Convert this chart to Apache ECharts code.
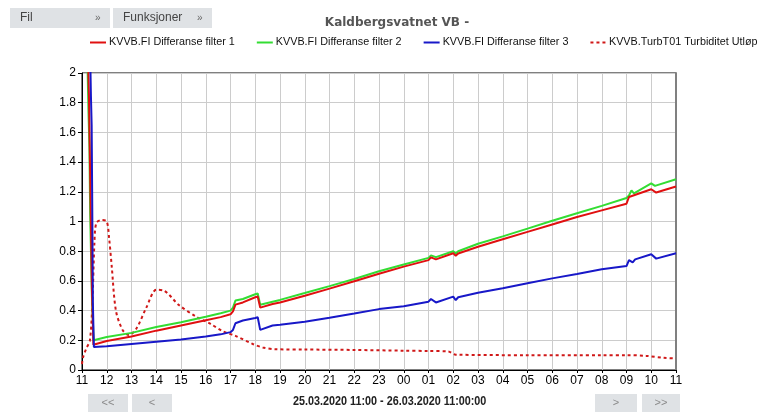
<!DOCTYPE html>
<html>
<head>
<meta charset="utf-8">
<script src="https://cdn.jsdelivr.net/npm/echarts@6/dist/echarts.min.js"></script>
<style>
html,body{margin:0;padding:0;background:#fff;}
#c{width:763px;height:412px;}
</style>
</head>
<body>
<div id="c"></div>
<script>
// x values are hours since 25.03.2020 11:00
const hourLabels = ['11','12','13','14','15','16','17','18','19','20','21','22','23','00','01','02','03','04','05','06','07','08','09','10','11'];
const seriesNames = ['KVVB.FI Differanse filter 1','KVVB.FI Differanse filter 2','KVVB.FI Differanse filter 3','KVVB.TurbT01 Turbiditet Utløp'];

const filter1 = [[0.2,2.4],[0.28,1.85],[0.34,1.2],[0.4,0.55],[0.46,0.17],[1.0,0.195],[2.0,0.225],[3.0,0.265],[4.0,0.3],[5.0,0.335],[5.6,0.356],[6.0,0.375],[6.1,0.395],[6.2,0.44],[6.5,0.455],[7.0,0.49],[7.1,0.495],[7.2,0.42],[7.7,0.444],[8,0.455],[9,0.5],[10,0.548],[11,0.598],[12,0.648],[13,0.696],[14,0.74],[14.1,0.758],[14.3,0.745],[15,0.786],[15.1,0.77],[15.2,0.785],[16,0.83],[17,0.88],[18,0.93],[19,0.98],[20,1.03],[21,1.075],[22,1.12],[22.1,1.165],[23,1.217],[23.2,1.195],[24,1.236]];
const filter2 = [[0.18,2.4],[0.26,1.75],[0.3,1.5],[0.33,1.05],[0.4,0.5],[0.47,0.2],[1,0.222],[2,0.25],[3,0.29],[4,0.322],[5,0.358],[5.6,0.382],[6.0,0.4],[6.1,0.42],[6.2,0.468],[6.5,0.478],[7.0,0.51],[7.1,0.515],[7.2,0.44],[7.7,0.46],[8,0.472],[9,0.518],[10,0.565],[11,0.613],[12,0.665],[13,0.71],[14,0.755],[14.1,0.772],[14.3,0.76],[15,0.8],[15.1,0.785],[15.2,0.8],[16,0.85],[17,0.9],[18,0.952],[19,1.005],[20,1.055],[21,1.105],[22,1.158],[22.1,1.175],[22.2,1.21],[22.3,1.19],[23,1.257],[23.15,1.24],[24,1.285]];
const filter3 = [[0.3,2.4],[0.36,1.85],[0.39,1.65],[0.41,1.2],[0.44,0.45],[0.48,0.155],[1,0.16],[2,0.175],[3,0.19],[4,0.205],[5,0.225],[5.6,0.24],[6.0,0.255],[6.1,0.27],[6.2,0.315],[6.5,0.333],[7.0,0.35],[7.1,0.355],[7.2,0.27],[7.7,0.3],[8,0.305],[9,0.325],[10,0.352],[11,0.38],[12,0.41],[13,0.43],[14,0.46],[14.1,0.478],[14.3,0.455],[15,0.494],[15.1,0.47],[15.2,0.49],[16,0.52],[17,0.55],[18,0.584],[19,0.617],[20,0.646],[21,0.678],[22,0.70],[22.1,0.74],[22.25,0.725],[22.35,0.745],[23,0.779],[23.2,0.75],[24,0.786]];
const turbidity = [[0,0.04],[0.05,0.09],[0.19,0.15],[0.32,0.2],[0.42,0.45],[0.5,0.85],[0.58,0.99],[0.8,1.01],[1.0,1.0],[1.1,0.88],[1.2,0.7],[1.37,0.4],[1.64,0.27],[1.9,0.235],[2.2,0.28],[2.6,0.42],[3.0,0.54],[3.3,0.535],[3.9,0.44],[4.6,0.36],[5.2,0.31],[5.7,0.26],[6.2,0.23],[6.9,0.175],[7.3,0.152],[7.8,0.14],[9,0.138],[11,0.135],[13,0.13],[14,0.128],[14.8,0.125],[15.1,0.103],[18,0.1],[21,0.1],[22,0.1],[22.8,0.095],[23.5,0.082],[24,0.078]];

const titleText = 'Kaldbergsvatnet VB -';
const rangeText = '25.03.2020 11:00 - 26.03.2020 11:00:00';

const chart = echarts.init(document.getElementById('c'), null, {renderer:'canvas'});
const colors = ['#e01010','#33dd33','#1818c8','#d01818'];
const solidIcon = 'path://M0,0H16V2H0Z';
const dottedIcon = 'path://M0,0H3V2H0Z M6,0H9V2H6Z M12,0H15V2H12Z';

function btn(x, y, w, h, label) {
  return {
    type: 'group', left: x, top: y,
    children: [
      {type:'rect', shape:{x:0,y:0,width:w,height:h}, style:{fill:'#dfe2e5'}},
      {type:'text', style:{text:label, x:w/2, y:h/2, textAlign:'center', textVerticalAlign:'middle', fill:'#8a8a8a', font:'11px "Liberation Sans", Arial'}}
    ]
  };
}
function menuBtn(x, w, label) {
  return {
    type: 'group', left: x, top: 8,
    children: [
      {type:'rect', shape:{x:0,y:0,width:w,height:20}, style:{fill:'#dfe2e5'}},
      {type:'text', style:{text:label, x:10, y:10, textVerticalAlign:'middle', fill:'#444', font:'12px "Liberation Sans", Arial'}},
      {type:'text', style:{text:'»', x:w-15, y:10, textVerticalAlign:'middle', fill:'#666', font:'10px "Liberation Sans", Arial'}}
    ]
  };
}

const option = {
  animation: false,
  backgroundColor: '#fff',
  title: {
    text: titleText, left: 392, top: 12, textAlign: 'center',
    textStyle: {fontFamily: '"DejaVu Sans", Verdana', fontSize: 12, fontWeight: 'bold', color: '#555'}
  },
  legend: {
    top: 37, left: 90, padding: 0, width: 700, itemGap: 22, itemWidth: 16, itemHeight: 2,
    textStyle: {fontFamily: '"Liberation Sans", Arial', fontSize: 10.8, color: '#111', padding: [0,0,0,-2]},
    data: [
      {name: seriesNames[0], icon: solidIcon},
      {name: seriesNames[1], icon: solidIcon},
      {name: seriesNames[2], icon: solidIcon},
      {name: seriesNames[3], icon: dottedIcon}
    ]
  },
  grid: {left: 82, top: 73, right: 87, bottom: 42, show: true, borderColor: '#000', borderWidth: 1},
  xAxis: [{
    type: 'value', min: 0, max: 24, interval: 1,
    axisLine: {show: true, onZero: false, lineStyle: {color: '#000'}},
    axisTick: {show: true, length: 3, lineStyle: {color: '#000'}},
    axisLabel: {color: '#000', fontFamily: '"Liberation Sans", Arial', fontSize: 12, margin: 5,
      formatter: v => hourLabels[Math.round(v)] },
    splitLine: {show: true, lineStyle: {color: '#cccccc', width: 1}}
  }],
  yAxis: [{
    type: 'value', min: 0, max: 2, interval: 0.2,
    axisLine: {show: true, lineStyle: {color: '#000'}},
    axisTick: {show: true, length: 4, lineStyle: {color: '#000'}},
    axisLabel: {color: '#000', fontFamily: '"Liberation Sans", Arial', fontSize: 12, margin: 6,
      formatter: v => String(Math.round(v*10)/10)},
    splitLine: {show: true, lineStyle: {color: '#cccccc', width: 1}}
  }, {
    type: 'value', min: 0, max: 2, interval: 0.2, position: 'right',
    axisLine: {show: true, lineStyle: {color: '#808080', width: 2}},
    axisTick: {show: false}, axisLabel: {show: false}, splitLine: {show: false}
  }],
  series: [
    {name: seriesNames[0], type: 'line', data: filter1, showSymbol: false, symbol: 'none', color: colors[0], lineStyle: {width: 2}, z: 4},
    {name: seriesNames[1], type: 'line', data: filter2, showSymbol: false, symbol: 'none', color: colors[1], lineStyle: {width: 2}, z: 3},
    {name: seriesNames[2], type: 'line', data: filter3, showSymbol: false, symbol: 'none', color: colors[2], lineStyle: {width: 2}, z: 5},
    {name: seriesNames[3], type: 'line', data: turbidity, showSymbol: false, symbol: 'none', smooth: 0.3, color: colors[3], lineStyle: {width: 2, type: [3,3]}, z: 2}
  ],
  graphic: [
    menuBtn(10, 100, 'Fil'),
    menuBtn(113, 99, 'Funksjoner'),
    btn(88, 394, 40, 18, '<<'),
    btn(132, 394, 40, 18, '<'),
    btn(595, 394, 42, 18, '>'),
    btn(642, 394, 38, 18, '>>'),
    {type:'text', left: 293, top: 396, scaleX: 0.9, style:{text: rangeText, fill:'#222', font:'bold 12px "Liberation Sans", Arial'}}
  ]
};
chart.setOption(option);
</script>
</body>
</html>
